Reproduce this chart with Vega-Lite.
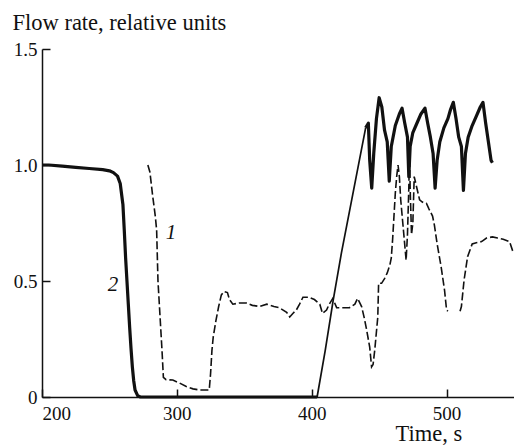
{
  "$schema": "https://vega.github.io/schema/vega-lite/v6.json",
  "width": 472,
  "height": 348,
  "autosize": "none",
  "padding": {"left": 42, "top": 49, "right": 0, "bottom": 48},
  "background": "white",
  "config": {
    "view": {"stroke": null},
    "axis": {
      "grid": false,
      "labelFont": "Times New Roman, Liberation Serif, serif",
      "labelFontSize": 19,
      "labelColor": "#111",
      "titleFont": "Times New Roman, Liberation Serif, serif",
      "titleFontSize": 22.5,
      "titleFontWeight": "normal",
      "titleColor": "#111",
      "domainColor": "#111",
      "domainWidth": 1.5,
      "tickColor": "#111",
      "tickWidth": 1.5,
      "tickSize": -8,
      "labelPadding": 13
    }
  },
  "datasets": {
    "curves": [
      {"curve": "2", "seg": "2a", "t": 200, "v": 1.0},
      {"curve": "2", "seg": "2a", "t": 205, "v": 1.0},
      {"curve": "2", "seg": "2a", "t": 215, "v": 0.995},
      {"curve": "2", "seg": "2a", "t": 225, "v": 0.99},
      {"curve": "2", "seg": "2a", "t": 235, "v": 0.985},
      {"curve": "2", "seg": "2a", "t": 245, "v": 0.98},
      {"curve": "2", "seg": "2a", "t": 250, "v": 0.975},
      {"curve": "2", "seg": "2a", "t": 253, "v": 0.967},
      {"curve": "2", "seg": "2a", "t": 256, "v": 0.952},
      {"curve": "2", "seg": "2a", "t": 258, "v": 0.92},
      {"curve": "2", "seg": "2a", "t": 260, "v": 0.83},
      {"curve": "2", "seg": "2a", "t": 261, "v": 0.72},
      {"curve": "2", "seg": "2a", "t": 262, "v": 0.6},
      {"curve": "2", "seg": "2a", "t": 263, "v": 0.5},
      {"curve": "2", "seg": "2a", "t": 264, "v": 0.4},
      {"curve": "2", "seg": "2a", "t": 265, "v": 0.3},
      {"curve": "2", "seg": "2a", "t": 266, "v": 0.21},
      {"curve": "2", "seg": "2a", "t": 267, "v": 0.13},
      {"curve": "2", "seg": "2a", "t": 268, "v": 0.07},
      {"curve": "2", "seg": "2a", "t": 269, "v": 0.03},
      {"curve": "2", "seg": "2a", "t": 271, "v": 0.005},
      {"curve": "2", "seg": "2a", "t": 273, "v": 0.0},
      {"curve": "2", "seg": "2a", "t": 320, "v": 0.0},
      {"curve": "2", "seg": "2a", "t": 370, "v": 0.0},
      {"curve": "2", "seg": "2a", "t": 404, "v": 0.0},
      {"curve": "2", "seg": "2b", "t": 404, "v": 0.0},
      {"curve": "2", "seg": "2b", "t": 410, "v": 0.2},
      {"curve": "2", "seg": "2b", "t": 416, "v": 0.42},
      {"curve": "2", "seg": "2b", "t": 422, "v": 0.62},
      {"curve": "2", "seg": "2b", "t": 428, "v": 0.8},
      {"curve": "2", "seg": "2b", "t": 434, "v": 0.98},
      {"curve": "2", "seg": "2b", "t": 440, "v": 1.16},
      {"curve": "2", "seg": "2c", "t": 440, "v": 1.16},
      {"curve": "2", "seg": "2c", "t": 442, "v": 1.18},
      {"curve": "2", "seg": "2c", "t": 443, "v": 1.02},
      {"curve": "2", "seg": "2c", "t": 444.5, "v": 0.9},
      {"curve": "2", "seg": "2c", "t": 446, "v": 1.05},
      {"curve": "2", "seg": "2c", "t": 448, "v": 1.2},
      {"curve": "2", "seg": "2c", "t": 450, "v": 1.29},
      {"curve": "2", "seg": "2c", "t": 452, "v": 1.25},
      {"curve": "2", "seg": "2c", "t": 454, "v": 1.15},
      {"curve": "2", "seg": "2c", "t": 456, "v": 1.1},
      {"curve": "2", "seg": "2c", "t": 457.5, "v": 0.93},
      {"curve": "2", "seg": "2c", "t": 459, "v": 1.08},
      {"curve": "2", "seg": "2c", "t": 462, "v": 1.17},
      {"curve": "2", "seg": "2c", "t": 465, "v": 1.22},
      {"curve": "2", "seg": "2c", "t": 467, "v": 1.245},
      {"curve": "2", "seg": "2c", "t": 469, "v": 1.18},
      {"curve": "2", "seg": "2c", "t": 471, "v": 1.12},
      {"curve": "2", "seg": "2c", "t": 472, "v": 0.95},
      {"curve": "2", "seg": "2c", "t": 473, "v": 1.08},
      {"curve": "2", "seg": "2c", "t": 475, "v": 1.14},
      {"curve": "2", "seg": "2c", "t": 478, "v": 1.18},
      {"curve": "2", "seg": "2c", "t": 481, "v": 1.22},
      {"curve": "2", "seg": "2c", "t": 484, "v": 1.245},
      {"curve": "2", "seg": "2c", "t": 486, "v": 1.18},
      {"curve": "2", "seg": "2c", "t": 488, "v": 1.12},
      {"curve": "2", "seg": "2c", "t": 490, "v": 1.05},
      {"curve": "2", "seg": "2c", "t": 491.5, "v": 0.9},
      {"curve": "2", "seg": "2c", "t": 493, "v": 1.02},
      {"curve": "2", "seg": "2c", "t": 495, "v": 1.1},
      {"curve": "2", "seg": "2c", "t": 498, "v": 1.16},
      {"curve": "2", "seg": "2c", "t": 501, "v": 1.2},
      {"curve": "2", "seg": "2c", "t": 503, "v": 1.24},
      {"curve": "2", "seg": "2c", "t": 505, "v": 1.27},
      {"curve": "2", "seg": "2c", "t": 507, "v": 1.2},
      {"curve": "2", "seg": "2c", "t": 509, "v": 1.12},
      {"curve": "2", "seg": "2c", "t": 511, "v": 1.08},
      {"curve": "2", "seg": "2c", "t": 512.5, "v": 0.89},
      {"curve": "2", "seg": "2c", "t": 514, "v": 1.05},
      {"curve": "2", "seg": "2c", "t": 516, "v": 1.12},
      {"curve": "2", "seg": "2c", "t": 519, "v": 1.17},
      {"curve": "2", "seg": "2c", "t": 522, "v": 1.21},
      {"curve": "2", "seg": "2c", "t": 525, "v": 1.25},
      {"curve": "2", "seg": "2c", "t": 527, "v": 1.27},
      {"curve": "2", "seg": "2c", "t": 529, "v": 1.18},
      {"curve": "2", "seg": "2c", "t": 531, "v": 1.1},
      {"curve": "2", "seg": "2c", "t": 533, "v": 1.02},
      {"curve": "2", "seg": "2c", "t": 534, "v": 1.01},
      {"curve": "1", "seg": "1a", "t": 278.5, "v": 1.0},
      {"curve": "1", "seg": "1a", "t": 280, "v": 0.97},
      {"curve": "1", "seg": "1a", "t": 282, "v": 0.87},
      {"curve": "1", "seg": "1a", "t": 284, "v": 0.78},
      {"curve": "1", "seg": "1a", "t": 285, "v": 0.72},
      {"curve": "1", "seg": "1a", "t": 286, "v": 0.5},
      {"curve": "1", "seg": "1a", "t": 287, "v": 0.4},
      {"curve": "1", "seg": "1a", "t": 288, "v": 0.3},
      {"curve": "1", "seg": "1a", "t": 289, "v": 0.2},
      {"curve": "1", "seg": "1a", "t": 290, "v": 0.085},
      {"curve": "1", "seg": "1a", "t": 292, "v": 0.075},
      {"curve": "1", "seg": "1a", "t": 297, "v": 0.073},
      {"curve": "1", "seg": "1a", "t": 302, "v": 0.06},
      {"curve": "1", "seg": "1a", "t": 307, "v": 0.045},
      {"curve": "1", "seg": "1a", "t": 312, "v": 0.035},
      {"curve": "1", "seg": "1a", "t": 317, "v": 0.03},
      {"curve": "1", "seg": "1a", "t": 324, "v": 0.03},
      {"curve": "1", "seg": "1a", "t": 325, "v": 0.1},
      {"curve": "1", "seg": "1a", "t": 326, "v": 0.2},
      {"curve": "1", "seg": "1a", "t": 327, "v": 0.26},
      {"curve": "1", "seg": "1a", "t": 329, "v": 0.33},
      {"curve": "1", "seg": "1a", "t": 331, "v": 0.39},
      {"curve": "1", "seg": "1a", "t": 333, "v": 0.44},
      {"curve": "1", "seg": "1a", "t": 335, "v": 0.455},
      {"curve": "1", "seg": "1a", "t": 337.5, "v": 0.45},
      {"curve": "1", "seg": "1a", "t": 339, "v": 0.42},
      {"curve": "1", "seg": "1a", "t": 341.5, "v": 0.4},
      {"curve": "1", "seg": "1a", "t": 346, "v": 0.405},
      {"curve": "1", "seg": "1a", "t": 351.6, "v": 0.405},
      {"curve": "1", "seg": "1a", "t": 356, "v": 0.395},
      {"curve": "1", "seg": "1a", "t": 361.5, "v": 0.39},
      {"curve": "1", "seg": "1a", "t": 366.7, "v": 0.4},
      {"curve": "1", "seg": "1a", "t": 372, "v": 0.39},
      {"curve": "1", "seg": "1a", "t": 376, "v": 0.385},
      {"curve": "1", "seg": "1a", "t": 381.4, "v": 0.365},
      {"curve": "1", "seg": "1a", "t": 383.7, "v": 0.345},
      {"curve": "1", "seg": "1a", "t": 386, "v": 0.36},
      {"curve": "1", "seg": "1a", "t": 388.6, "v": 0.375},
      {"curve": "1", "seg": "1a", "t": 391, "v": 0.4},
      {"curve": "1", "seg": "1a", "t": 393.5, "v": 0.43},
      {"curve": "1", "seg": "1a", "t": 398, "v": 0.43},
      {"curve": "1", "seg": "1a", "t": 402, "v": 0.42},
      {"curve": "1", "seg": "1a", "t": 406, "v": 0.4},
      {"curve": "1", "seg": "1a", "t": 408, "v": 0.36},
      {"curve": "1", "seg": "1a", "t": 411, "v": 0.375},
      {"curve": "1", "seg": "1a", "t": 413, "v": 0.4},
      {"curve": "1", "seg": "1a", "t": 415.6, "v": 0.425},
      {"curve": "1", "seg": "1a", "t": 418.5, "v": 0.385},
      {"curve": "1", "seg": "1a", "t": 423, "v": 0.385},
      {"curve": "1", "seg": "1a", "t": 428, "v": 0.385},
      {"curve": "1", "seg": "1a", "t": 432, "v": 0.4},
      {"curve": "1", "seg": "1a", "t": 434, "v": 0.425},
      {"curve": "1", "seg": "1a", "t": 437, "v": 0.39},
      {"curve": "1", "seg": "1a", "t": 439, "v": 0.34},
      {"curve": "1", "seg": "1a", "t": 440.7, "v": 0.29},
      {"curve": "1", "seg": "1a", "t": 443, "v": 0.215},
      {"curve": "1", "seg": "1a", "t": 444.4, "v": 0.13},
      {"curve": "1", "seg": "1a", "t": 445.5, "v": 0.14},
      {"curve": "1", "seg": "1a", "t": 446.7, "v": 0.2},
      {"curve": "1", "seg": "1a", "t": 449, "v": 0.345},
      {"curve": "1", "seg": "1a", "t": 449.6, "v": 0.49},
      {"curve": "1", "seg": "1a", "t": 451.8, "v": 0.49},
      {"curve": "1", "seg": "1a", "t": 454, "v": 0.51},
      {"curve": "1", "seg": "1a", "t": 456, "v": 0.535},
      {"curve": "1", "seg": "1a", "t": 458, "v": 0.57},
      {"curve": "1", "seg": "1a", "t": 459, "v": 0.6},
      {"curve": "1", "seg": "1a", "t": 460, "v": 0.68},
      {"curve": "1", "seg": "1a", "t": 461, "v": 0.78},
      {"curve": "1", "seg": "1a", "t": 462, "v": 0.88},
      {"curve": "1", "seg": "1a", "t": 463, "v": 0.95},
      {"curve": "1", "seg": "1a", "t": 464, "v": 1.0},
      {"curve": "1", "seg": "1a", "t": 465, "v": 0.95},
      {"curve": "1", "seg": "1a", "t": 466, "v": 0.85},
      {"curve": "1", "seg": "1a", "t": 468, "v": 0.72},
      {"curve": "1", "seg": "1a", "t": 470, "v": 0.59},
      {"curve": "1", "seg": "1a", "t": 471, "v": 0.7},
      {"curve": "1", "seg": "1a", "t": 472, "v": 0.9},
      {"curve": "1", "seg": "1a", "t": 472.5, "v": 1.05},
      {"curve": "1", "seg": "1a", "t": 473, "v": 0.9},
      {"curve": "1", "seg": "1a", "t": 474, "v": 0.7},
      {"curve": "1", "seg": "1a", "t": 475, "v": 0.75},
      {"curve": "1", "seg": "1a", "t": 476, "v": 0.95},
      {"curve": "1", "seg": "1a", "t": 478, "v": 0.9},
      {"curve": "1", "seg": "1a", "t": 480, "v": 0.85},
      {"curve": "1", "seg": "1a", "t": 482, "v": 0.84},
      {"curve": "1", "seg": "1a", "t": 485, "v": 0.835},
      {"curve": "1", "seg": "1a", "t": 487, "v": 0.81},
      {"curve": "1", "seg": "1a", "t": 489.6, "v": 0.78},
      {"curve": "1", "seg": "1a", "t": 491, "v": 0.74},
      {"curve": "1", "seg": "1a", "t": 493, "v": 0.66},
      {"curve": "1", "seg": "1a", "t": 496, "v": 0.56},
      {"curve": "1", "seg": "1a", "t": 498.5, "v": 0.46},
      {"curve": "1", "seg": "1a", "t": 500, "v": 0.375},
      {"curve": "1", "seg": "1a", "t": 501, "v": 0.37},
      {"curve": "1", "seg": "1b", "t": 510, "v": 0.37},
      {"curve": "1", "seg": "1b", "t": 511, "v": 0.39},
      {"curve": "1", "seg": "1b", "t": 513, "v": 0.505},
      {"curve": "1", "seg": "1b", "t": 515.6, "v": 0.605},
      {"curve": "1", "seg": "1b", "t": 519, "v": 0.66},
      {"curve": "1", "seg": "1b", "t": 522, "v": 0.665},
      {"curve": "1", "seg": "1b", "t": 526, "v": 0.67},
      {"curve": "1", "seg": "1b", "t": 529.6, "v": 0.685},
      {"curve": "1", "seg": "1b", "t": 534, "v": 0.69},
      {"curve": "1", "seg": "1b", "t": 537.8, "v": 0.685},
      {"curve": "1", "seg": "1b", "t": 542, "v": 0.68},
      {"curve": "1", "seg": "1b", "t": 546.7, "v": 0.67},
      {"curve": "1", "seg": "1b", "t": 549, "v": 0.63},
      {"curve": "1", "seg": "1b", "t": 550, "v": 0.62}
    ],
    "labels": [
      {"label": "1", "t": 295.6, "v": 0.707},
      {"label": "2", "t": 252.6, "v": 0.483}
    ]
  },
  "layer": [
    {
      "data": {"name": "curves"},
      "transform": [{"filter": "datum.curve == '1'"}],
      "mark": {"type": "line", "color": "#111", "strokeWidth": 1.6, "strokeDash": [8, 3]},
      "encoding": {
        "x": {
          "field": "t", "type": "quantitative",
          "scale": {"domain": [200, 550], "nice": false, "zero": false},
          "axis": {
            "values": [200, 300, 400, 500],
            "format": "d",
            "labelPadding": 15,
            "title": "Time, s",
            "titleAlign": "left",
            "titleBaseline": "alphabetic",
            "titleX": 353,
            "titleY": 43
          }
        },
        "y": {
          "field": "v", "type": "quantitative",
          "scale": {"domain": [0, 1.5], "nice": false},
          "axis": {
            "values": [0, 0.5, 1, 1.5],
            "labelExpr": "datum.value == 0 ? '0' : format(datum.value, '.1f')",
            "title": "Flow rate, relative units",
            "titleAngle": 0,
            "titleAlign": "left",
            "titleBaseline": "alphabetic",
            "titleX": -30,
            "titleY": -20
          }
        },
        "detail": {"field": "seg"}
      }
    },
    {
      "data": {"name": "curves"},
      "transform": [{"filter": "datum.seg == '2a' || datum.seg == '2c'"}],
      "mark": {"type": "line", "color": "#111", "strokeWidth": 3.2, "strokeJoin": "round"},
      "encoding": {
        "x": {"field": "t", "type": "quantitative"},
        "y": {"field": "v", "type": "quantitative"},
        "detail": {"field": "seg"}
      }
    },
    {
      "data": {"name": "curves"},
      "transform": [{"filter": "datum.seg == '2b'"}],
      "mark": {"type": "line", "color": "#111", "strokeWidth": 1.7},
      "encoding": {
        "x": {"field": "t", "type": "quantitative"},
        "y": {"field": "v", "type": "quantitative"}
      }
    },
    {
      "data": {"name": "labels"},
      "mark": {"type": "text", "font": "Times New Roman, Liberation Serif, serif", "fontStyle": "italic", "fontSize": 21, "color": "#111"},
      "encoding": {
        "x": {"field": "t", "type": "quantitative"},
        "y": {"field": "v", "type": "quantitative"},
        "text": {"field": "label"}
      }
    }
  ]
}
